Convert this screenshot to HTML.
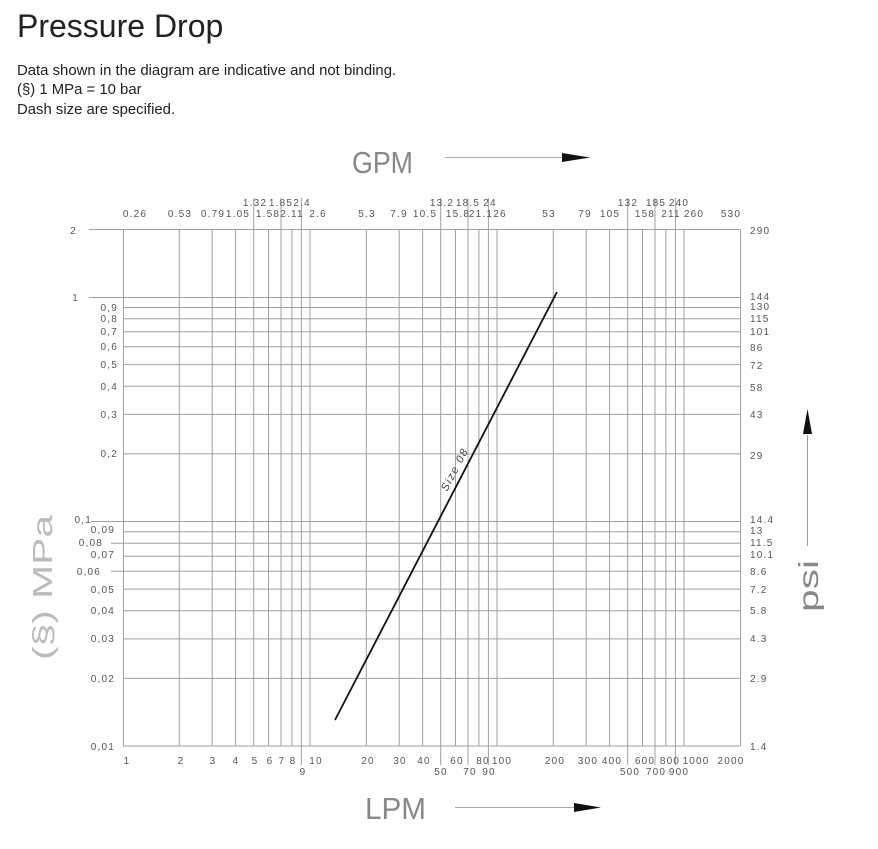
<!DOCTYPE html>
<html><head><meta charset="utf-8"><style>
body{margin:0;background:#fff;width:878px;height:849px;overflow:hidden;font-family:"Liberation Sans",sans-serif}
h1{position:absolute;left:17px;top:8px;margin:0;font-weight:normal;font-size:32px;color:#222}
.p{position:absolute;left:17px;font-size:14.9px;color:#222}
svg{position:absolute;left:0;top:0}
</style></head><body>
<h1>Pressure Drop</h1>
<div class="p" style="top:63px">Data shown in the diagram are indicative and not binding.</div>
<div class="p" style="top:82px">(§) 1 MPa = 10 bar</div>
<div class="p" style="top:102px">Dash size are specified.</div>
<svg width="878" height="849" viewBox="0 0 878 849">
<g stroke="#a0a0a0" stroke-width="1" fill="none">
<path d="M123.5 229.4V746M179.3 229.4V746M212.2 229.4V746M235.6 229.4V746M253.7 198V746M268.5 229.4V746M281 198V746M291.9 229.4V746M301.4 198V765M310 229.4V746
M366.3 229.4V746M399.2 229.4V746M422.6 229.4V746M440.7 198V765M455.5 229.4V746M468 198V765M478.9 229.4V746M488.4 198V765M497 229.4V746
M553.3 229.4V746M586.2 229.4V746M609.6 229.4V746M627.7 198V765M642.5 229.4V746M655 198V765M665.9 229.4V746M675.4 198V765M684 229.4V746M740.5 229.4V746"/>
<path d="M89 229.5H740.5M89 297.5H740.5M123 307.5H740.5M123 318.8H740.5M123 331.8H740.5M123 346.8H740.5M123 364.6H740.5M123 386.3H740.5M123 414.4H740.5M123 453.9H740.5
M91 521.5H740.5M123 531.8H740.5M111 543.3H740.5M123 556.3H740.5M111 571.3H740.5M123 589.1H740.5M123 610.8H740.5M123 638.9H740.5M123 678.4H740.5M123 746H740.5"/>
</g>
<line x1="335" y1="720" x2="557" y2="292" stroke="#111" stroke-width="1.8"/>
<text x="0" y="0" transform="translate(447,492) rotate(-62.6)" font-size="11" fill="#444" letter-spacing="1.5" font-style="italic">Size 08</text>
<g font-size="10" fill="#555" letter-spacing="1.2" font-family="Liberation Sans,sans-serif">
<g text-anchor="middle">
<text x="135" y="217">0.26</text><text x="180" y="217">0.53</text><text x="213" y="217">0.79</text><text x="238" y="217">1.05</text>
<text x="268" y="217">1.58</text><text x="292" y="217">2.11</text><text x="318" y="217">2.6</text>
<text x="255" y="206">1.32</text><text x="281" y="206">1.85</text><text x="302" y="206">2.4</text>
<text x="367" y="217">5.3</text><text x="399" y="217">7.9</text><text x="425" y="217">10.5</text><text x="458" y="217">15.8</text><text x="481" y="217">21.1</text><text x="500" y="217">26</text>
<text x="442" y="206">13.2</text><text x="468" y="206">18.5</text><text x="490" y="206">24</text>
<text x="549" y="217">53</text><text x="585" y="217">79</text><text x="610" y="217">105</text><text x="645" y="217">158</text><text x="671" y="217">211</text><text x="694" y="217">260</text><text x="731" y="217">530</text>
<text x="628" y="206">132</text><text x="656" y="206">185</text><text x="679" y="206">240</text>
<text x="127" y="764">1</text><text x="181" y="764">2</text><text x="213" y="764">3</text><text x="236" y="764">4</text><text x="255" y="764">5</text><text x="270" y="764">6</text><text x="282" y="764">7</text><text x="293" y="764">8</text><text x="316" y="764">10</text>
<text x="303" y="775">9</text>
<text x="368" y="764">20</text><text x="400" y="764">30</text><text x="424" y="764">40</text><text x="457" y="764">60</text><text x="483" y="764">80</text><text x="502" y="764">100</text>
<text x="441" y="775">50</text><text x="470" y="775">70</text><text x="489" y="775">90</text>
<text x="555" y="764">200</text><text x="588" y="764">300</text><text x="612" y="764">400</text><text x="645" y="764">600</text><text x="670" y="764">800</text><text x="696" y="764">1000</text><text x="731" y="764">2000</text>
<text x="630" y="775">500</text><text x="656" y="775">700</text><text x="679" y="775">900</text>
</g>
<g text-anchor="end">
<text x="77" y="234">2</text><text x="79" y="301">1</text>
<text x="118" y="311">0,9</text><text x="118" y="322">0,8</text><text x="118" y="335">0,7</text><text x="118" y="350">0,6</text><text x="118" y="368">0,5</text><text x="118" y="390">0,4</text><text x="118" y="418">0,3</text><text x="118" y="457">0,2</text>
<text x="92" y="523">0,1</text><text x="115" y="533">0,09</text><text x="103" y="546">0,08</text><text x="115" y="558">0,07</text><text x="101" y="575">0,06</text><text x="115" y="593">0,05</text><text x="115" y="614">0,04</text><text x="115" y="642">0,03</text><text x="115" y="682">0,02</text><text x="115" y="750">0,01</text>
</g>
<g>
<text x="750" y="234">290</text><text x="750" y="300">144</text><text x="750" y="310">130</text><text x="750" y="322">115</text><text x="750" y="335">101</text><text x="750" y="351">86</text><text x="750" y="369">72</text><text x="750" y="391">58</text><text x="750" y="418">43</text><text x="750" y="459">29</text>
<text x="750" y="523">14.4</text><text x="750" y="534">13</text><text x="750" y="546">11.5</text><text x="750" y="558">10.1</text><text x="750" y="575">8.6</text><text x="750" y="593">7.2</text><text x="750" y="614">5.8</text><text x="750" y="642">4.3</text><text x="750" y="682">2.9</text><text x="750" y="750">1.4</text>
</g>
</g>
<text x="352" y="173" font-size="31" fill="#888" textLength="61" lengthAdjust="spacingAndGlyphs" font-family="Liberation Sans,sans-serif">GPM</text>
<line x1="445" y1="157.5" x2="565" y2="157.5" stroke="#aaa"/>
<polygon points="562,153 590,157.5 562,162" fill="#111"/>
<text x="365" y="819" font-size="31" fill="#888" textLength="61" lengthAdjust="spacingAndGlyphs" font-family="Liberation Sans,sans-serif">LPM</text>
<line x1="455" y1="807.5" x2="575" y2="807.5" stroke="#aaa"/>
<polygon points="574,803 601,807.5 574,812" fill="#111"/>
<text transform="translate(52,660) rotate(-90)" font-size="28" fill="#bbb" textLength="145" lengthAdjust="spacingAndGlyphs" font-family="Liberation Sans,sans-serif">(§) MPa</text>
<text transform="translate(818,612) rotate(-90)" font-size="28" fill="#888" textLength="52" lengthAdjust="spacingAndGlyphs" font-family="Liberation Sans,sans-serif">psi</text>
<line x1="807.5" y1="435" x2="807.5" y2="546" stroke="#999"/>
<polygon points="803,434 807.5,409 812,434" fill="#111"/>
</svg>
</body></html>
